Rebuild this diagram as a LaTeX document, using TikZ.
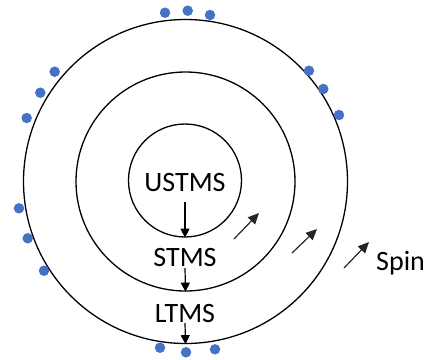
\documentclass[tikz,border=0pt]{standalone}
\usepackage{fontspec}
\setmainfont{Carlito}
\usetikzlibrary{arrows.meta}
\definecolor{dotblue}{HTML}{4472C4}
\begin{document}
\begin{tikzpicture}[x=1pt,y=-1pt,
  ring/.style={circle,draw=black,line width=1.3pt,inner sep=0pt},
  lbl/.style={inner sep=0pt,font=\fontsize{28}{31}\selectfont},
  dot/.style={circle,fill=dotblue,inner sep=0pt,minimum size=10.5pt},
  down/.style={-{Triangle[length=9pt,width=9pt]},line width=1.2pt},
  spinarrow/.style={-{Triangle[length=11pt,width=10pt]},line width=1.2pt,draw=black!85}]
\useasboundingbox (0,0) rectangle (427,359);
\node[ring,minimum size=324pt] (outer) at (185.5,181.5) {};
\node[ring,minimum size=219pt] (middle) at (185.5,181.5) {};
\node[ring,minimum size=113pt] (inner) at (185,180.5) {};
\node[lbl] (ustms) at (185,182.5) {USTMS};
\node[lbl] (stms) at (185,257.5) {STMS};
\node[lbl] (ltms) at (185,314) {LTMS};
\node[lbl,anchor=west] (spin) at (376,263) {Spin};
\coordinate (a1) at (185,202);
\coordinate (a2) at (185,268);
\coordinate (a3) at (185,323);
\draw[down] (a1) -- (inner.south);
\draw[down] (a2) -- (middle.south);
\draw[down] (a3) -- (outer.south);
\coordinate (s1a) at (234,239); \coordinate (s1b) at (259,213);
\coordinate (s2a) at (292,253); \coordinate (s2b) at (317,229);
\coordinate (s3a) at (344,268); \coordinate (s3b) at (369,242);
\draw[spinarrow] (s1a) -- (s1b);
\draw[spinarrow] (s2a) -- (s2b);
\draw[spinarrow] (s3a) -- (s3b);
\node[dot] (d1) at (165,12.7) {};
\node[dot] (d2) at (187.7,10.7) {};
\node[dot] (d3) at (210,15) {};
\node[dot] (d4) at (54.7,71.7) {};
\node[dot] (d5) at (40.3,92.7) {};
\node[dot] (d6) at (26.7,118) {};
\node[dot] (d7) at (309,70.7) {};
\node[dot] (d8) at (323.3,89) {};
\node[dot] (d9) at (339,115) {};
\node[dot] (d10) at (19,208.3) {};
\node[dot] (d11) at (27.7,238.3) {};
\node[dot] (d12) at (44,270.7) {};
\node[dot] (d13) at (160,347.7) {};
\node[dot] (d14) at (186,352.3) {};
\node[dot] (d15) at (215,349.3) {};
\end{tikzpicture}
\end{document}
